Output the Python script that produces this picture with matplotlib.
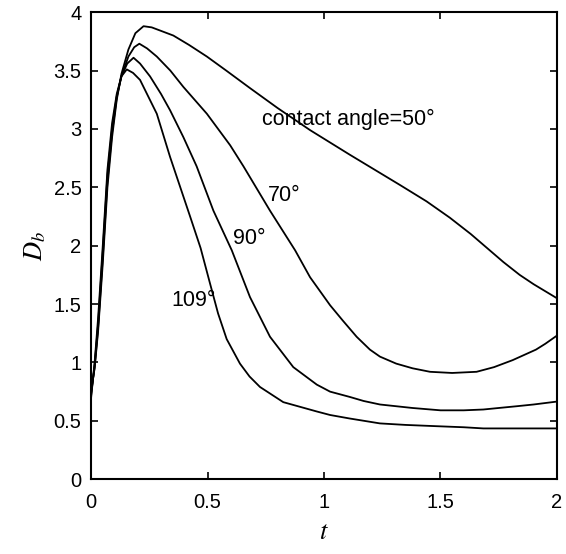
import numpy as np
import matplotlib.pyplot as plt

# time values and bubble diameter, per contact angle
t50 = [0.0, 0.015, 0.03, 0.05, 0.07, 0.09, 0.11, 0.13, 0.16, 0.19, 0.225, 0.26, 0.30, 0.353,
       0.42, 0.497, 0.58, 0.682, 0.80, 0.94, 1.11, 1.326, 1.44, 1.54, 1.63, 1.70, 1.77,
       1.84, 1.90, 1.95, 2.0]
d50 = [0.76, 0.95, 1.27, 1.85, 2.5, 2.93, 3.25, 3.47, 3.68, 3.82, 3.88, 3.87, 3.84, 3.80,
       3.72, 3.62, 3.50, 3.35, 3.18, 2.99, 2.78, 2.52, 2.38, 2.24, 2.10, 1.98, 1.86,
       1.75, 1.67, 1.61, 1.55]

t70 = [0.0, 0.015, 0.03, 0.05, 0.07, 0.09, 0.11, 0.13, 0.16, 0.185, 0.207, 0.24, 0.282,
       0.34, 0.396, 0.497, 0.597, 0.654, 0.768, 0.876, 0.94, 1.026, 1.08, 1.14, 1.197,
       1.24, 1.31, 1.38, 1.455, 1.55, 1.655, 1.73, 1.81, 1.91, 1.95, 2.0]
d70 = [0.74, 0.96, 1.3, 1.9, 2.55, 2.97, 3.27, 3.45, 3.62, 3.70, 3.73, 3.69, 3.62,
       3.50, 3.36, 3.13, 2.86, 2.68, 2.30, 1.96, 1.73, 1.49, 1.36, 1.22, 1.11,
       1.05, 0.99, 0.95, 0.92, 0.91, 0.92, 0.96, 1.02, 1.11, 1.16, 1.23]

t90 = [0.0, 0.015, 0.03, 0.05, 0.07, 0.09, 0.11, 0.13, 0.155, 0.182, 0.21, 0.253, 0.30,
       0.339, 0.396, 0.453, 0.525, 0.604, 0.682, 0.768, 0.868, 0.969, 1.026, 1.11, 1.17,
       1.24, 1.38, 1.50, 1.60, 1.684, 1.75, 1.827, 1.90, 2.0]
d90 = [0.72, 0.98, 1.33, 1.95, 2.6, 3.0, 3.28, 3.45, 3.56, 3.61, 3.56, 3.45, 3.30,
       3.16, 2.93, 2.68, 2.30, 1.96, 1.56, 1.22, 0.96, 0.81, 0.75, 0.705, 0.67,
       0.64, 0.61, 0.59, 0.59, 0.597, 0.61, 0.625, 0.64, 0.665]

t109 = [0.0, 0.015, 0.03, 0.05, 0.07, 0.09, 0.11, 0.13, 0.153, 0.18, 0.21, 0.282, 0.339,
        0.425, 0.47, 0.51, 0.545, 0.582, 0.639, 0.68, 0.725, 0.825, 0.969, 1.026, 1.11,
        1.24, 1.35, 1.484, 1.60, 1.684, 1.85, 2.0]
d109 = [0.70, 1.0, 1.38, 2.0, 2.65, 3.05, 3.3, 3.45, 3.51, 3.48, 3.42, 3.13, 2.76,
        2.25, 1.98, 1.68, 1.42, 1.20, 0.99, 0.88, 0.79, 0.66, 0.58, 0.55, 0.52,
        0.478, 0.465, 0.454, 0.445, 0.435, 0.435, 0.435]

plt.rcParams['font.family'] = ['Liberation Sans', 'DejaVu Sans']
plt.rcParams['mathtext.fontset'] = 'stix'

fig = plt.figure(figsize=(5.66, 5.54), dpi=100)
ax = fig.add_axes([0.161, 0.135, 0.823, 0.843])

for t, d in [(t50, d50), (t70, d70), (t90, d90), (t109, d109)]:
    ax.plot(t, d, color='black', linewidth=1.3)

ax.text(0.734, 3.08, 'contact angle=50°', fontsize=15.5, va='center')
ax.text(0.76, 2.43, '70°', fontsize=15.5, va='center')
ax.text(0.61, 2.065, '90°', fontsize=15.5, va='center')
ax.text(0.346, 1.53, '109°', fontsize=15.5, va='center')

ax.set_xlim(0, 2)
ax.set_ylim(0, 4)
ax.set_xticks([0, 0.5, 1, 1.5, 2])
ax.set_xticklabels(['0', '0.5', '1', '1.5', '2'])
ax.set_yticks([0, 0.5, 1, 1.5, 2, 2.5, 3, 3.5, 4])
ax.set_yticklabels(['0', '0.5', '1', '1.5', '2', '2.5', '3', '3.5', '4'])
ax.tick_params(direction='in', top=True, right=True, length=5, width=1.2,
               labelsize=14.5)
ax.tick_params(axis='x', pad=10)
ax.tick_params(axis='y', pad=7)
for s in ax.spines.values():
    s.set_linewidth(1.5)

ax.set_xlabel('$t$', fontsize=19, labelpad=6)
ax.set_ylabel('$D_b$', fontsize=19, labelpad=4)

fig.savefig('out.png', dpi=100)
